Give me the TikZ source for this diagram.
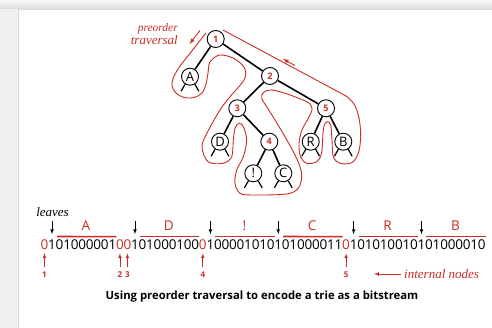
\documentclass[tikz,border=0pt]{standalone}
\usepackage{fontspec}
\setsansfont{Open Sans}
\newfontfamily\notefont{Liberation Serif}
\usetikzlibrary{positioning}

\definecolor{tred}{RGB}{200,45,38}

\tikzset{
  inner/.style={circle, draw, fill=white, minimum size=17pt, inner sep=0pt,
    line width=0.9pt, text=tred, font=\sffamily\bfseries\fontsize{9}{9}\selectfont},
  leaf/.style={inner, text=black, font=\sffamily\fontsize{13}{13}\selectfont},
  link/.style={line width=1.6pt},
  trav/.style={tred, line width=0.9pt},
  bit/.style={anchor=base, inner sep=0pt, font=\sffamily\fontsize{13.5}{13.5}\selectfont},
  chr/.style={text=tred, inner sep=0pt, font=\sffamily\fontsize{13.5}{13.5}\selectfont},
  num/.style={text=tred, inner sep=0pt, font=\sffamily\bfseries\fontsize{8}{8}\selectfont},
  note/.style={inner sep=0pt, font=\notefont\itshape\fontsize{13}{13}\selectfont},
  bit1/.style={text=tred}, bit11/.style={text=tred}, bit12/.style={text=tred},
  bit22/.style={text=tred}, bit41/.style={text=tred}
}

\begin{document}
\begin{tikzpicture}[x=1pt, y=-1pt, >=latex]
  \useasboundingbox (0,0) rectangle (492,328);
  % page edge
  \fill[gray!12] (0,0) rectangle (492,328);
  \shade[top color=gray!6, bottom color=gray!28] (0,0) rectangle (492,9);
  \fill[white] (18,9) rectangle (492,328);
  \draw[gray!30, line width=0.6pt] (18,328) -- (18,9) -- (492,9);

  % the trie
  \node[inner] (n1) at (215.7,39) {1};
  \node[leaf] (A) at (190,76.7) {A};
  \node[inner] (n2) at (270,76) {2};
  \node[inner] (n3) at (237.3,108.3) {3};
  \node[inner] (n5) at (326,108.3) {5};
  \node[leaf] (D) at (220,141.7) {D};
  \node[inner] (n4) at (269.3,141.7) {4};
  \node[leaf] (R) at (310.7,141.7) {R};
  \node[leaf] (B) at (343.3,141.7) {B};
  \node[leaf] (excl) at (253.3,173.3) {!};
  \node[leaf] (C) at (283.3,173.3) {C};

  \draw[link] (n1) -- (A);
  \draw[link] (n1) -- (n2);
  \draw[link] (n2) -- (n3);
  \draw[link] (n2) -- (n5);
  \draw[link] (n3) -- (D);
  \draw[link] (n3) -- (n4);
  \draw[link] (n4) -- (excl);
  \draw[link] (n4) -- (C);
  \draw[link] (n5) -- (R);
  \draw[link] (n5) -- (B);
  \foreach \l in {A,D,R,B,excl,C} {
    \draw[line width=1.2pt] (\l.237) -- ++(-4,7);
    \draw[line width=1.2pt] (\l.303) -- ++(4,7);
  }

  % preorder contour
  \draw[trav] (206,33) -- plot[smooth, tension=0.55] coordinates {
    (180,66) (173.5,77) (172,86) (176,93) (184,97.5) (194,97.5) (202,93)
    (206,84) (208,73) (210,62) (220,55) (235,59) (245,69) (244,80)
    (230,96.7) (220,110) (207,133) (202,147) (208,161.7) (223,163.3)
    (231.7,156.7) (233.3,140) (235,128.3) (239,123.3) (243.3,126.7)
    (246.7,140) (243.3,156.7) (236.7,170) (235,183.3) (240,193.3)
    (253.3,195) (286.7,194) (298.3,188.3) (301.7,176.7) (300,166.7)
    (295,155) (285,136.7) (275,120) (266.7,106.7) (261.7,98.3)
    (263.3,92.7) (270,90) (283.3,92.7) (306.7,101.7) (312,108.3)
    (309,117) (302,130) (299,143.3) (300.5,156.7) (306.7,163.3)
    (316.7,161.7) (321.5,153.3) (323,133.3) (324.3,125) (327.3,121.7)
    (330.7,125) (332,140) (333.3,156.7) (340,163.3) (351.7,162.7)
    (358.3,153.3) (360.7,136.7) (359,118) (354,104) (346,96)
  } -- (223,30);
  \draw[trav, ->] (200,30.5) -- (189.5,44);
  \draw[trav, ->] (295,65.5) -- (283,59);
  \node[note, text=tred, align=right, anchor=east] (pre) at (178,34)
    {\fontsize{11.5}{13}\selectfont preorder\\traversal};

  % the bitstream
  \foreach \b [count=\i] in {0,1,0,1,0,0,0,0,0,1,0,0,1,0,1,0,0,0,1,0,
      0,0,1,0,0,0,0,1,0,1,0,1,0,1,0,0,0,0,1,1,0,1,0,1,0,1,0,0,1,0,
      1,0,1,0,0,0,0,1,0}
    \node[bit, bit\i/.try] (b\i) at ({36.96+7.54*\i},250) {\b};

  % leaves: marker, bar, character
  \foreach \s/\l in {3/A,14/D,24/!,33/C,43/R,52/B} {
    \pgfmathtruncatemacro\e{\s+7}
    \pgfmathtruncatemacro\m{\s-1}
    \draw[tred, line width=1.6pt] ([xshift=1.5pt, yshift=3.5pt]b\s.north west)
      -- ([yshift=3.5pt]b\e.north east);
    \node[chr] (c\s) at ({36.96+7.54*(\s+3.5)},226) {\l};
    \draw[->, line width=0.7pt] ([yshift=19pt]b\m.north) -- ([yshift=6pt]b\m.north);
  }
  \node[note] (leaves) at (52.5,212) {leaves};

  % internal nodes
  \foreach \i/\n in {1/1,11/2,12/3,22/4,41/5} {
    \draw[tred, ->, line width=0.7pt] ([yshift=-17pt]b\i.south) -- ([yshift=-3pt]b\i.south);
    \node[num] (k\n) at ([yshift=-24pt]b\i.south) {\n};
  }
  \node[note, text=tred, anchor=west] (intl) at (404,274) {internal nodes};
  \coordinate (intarr) at (374,274);
  \draw[tred, ->, line width=0.7pt] ([xshift=-3pt]intl.west) -- (intarr);

  \node[font=\sffamily\bfseries\fontsize{11.3}{13}\selectfont] (cap) at (262,297)
    {Using preorder traversal to encode a trie as a bitstream};
\end{tikzpicture}
\end{document}
